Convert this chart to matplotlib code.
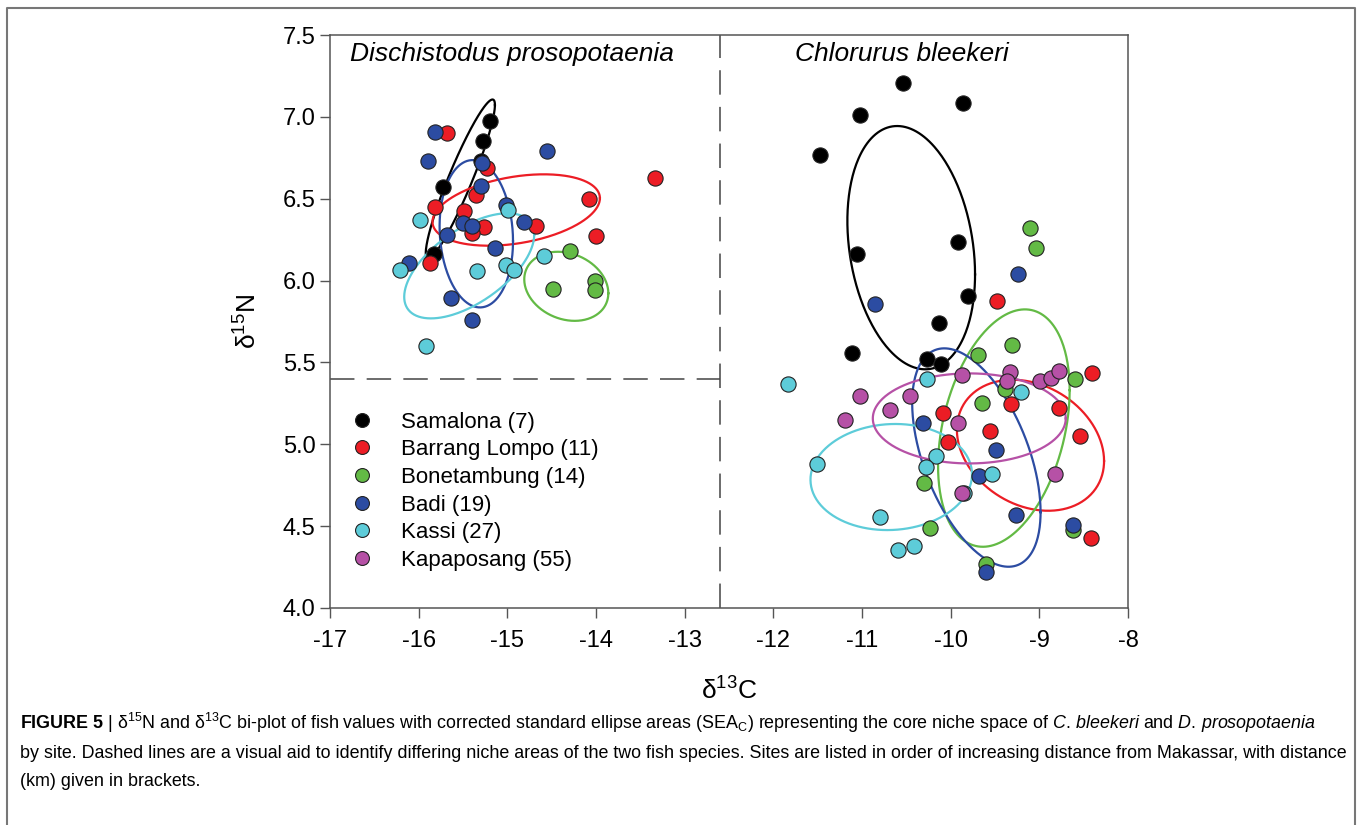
import numpy as np
import matplotlib
matplotlib.use("Agg")
import matplotlib.pyplot as plt
from matplotlib.lines import Line2D

plt.rcParams['font.family'] = ['Liberation Sans', 'DejaVu Sans']
plt.rcParams['axes.unicode_minus'] = False
plt.rcParams['mathtext.fontset'] = 'custom'
plt.rcParams['mathtext.rm'] = 'Liberation Sans'
plt.rcParams['mathtext.it'] = 'Liberation Sans:italic'
plt.rcParams['mathtext.bf'] = 'Liberation Sans:bold'

# site names and colours
sites = ["Samalona (7)", "Barrang Lompo (11)", "Bonetambung (14)",
         "Badi (19)", "Kassi (27)", "Kapaposang (55)"]
colors = ["#000000", "#ec1d25", "#63ba45", "#2c4ca2", "#5dccd9", "#b651a6"]

# Dischistodus prosopotaenia (left group), d13C / d15N per site
dp_x = [
    [-15.20, -15.28, -15.72, -15.83, -15.30],
    [-15.68, -15.23, -15.35, -15.82, -15.49, -15.26, -15.40, -14.68, -14.08, -14.00, -13.33, -15.87],
    [-14.29, -14.48, -14.01, -14.01],
    [-15.82, -15.90, -15.29, -14.55, -15.30, -15.02, -14.81, -15.50, -15.40, -15.68, -15.14, -16.11, -15.63, -15.40],
    [-15.98, -14.99, -14.59, -16.21, -15.34, -15.01, -14.92, -15.92],
    [],
]
dp_y = [
    [6.975, 6.85, 6.57, 6.16, 6.73],
    [6.90, 6.69, 6.52, 6.45, 6.425, 6.33, 6.29, 6.335, 6.50, 6.275, 6.625, 6.11],
    [6.18, 5.95, 6.00, 5.94],
    [6.91, 6.73, 6.72, 6.79, 6.58, 6.46, 6.36, 6.35, 6.335, 6.28, 6.20, 6.11, 5.895, 5.76],
    [6.37, 6.43, 6.15, 6.065, 6.06, 6.095, 6.065, 5.60],
    [],
]

# Chlorurus bleekeri (right group)
cb_x = [
    [-10.54, -9.86, -11.02, -11.47, -9.92, -11.06, -9.81, -10.13, -11.11, -10.27, -10.11],
    [-9.48, -8.41, -9.32, -8.78, -10.09, -9.56, -8.54, -10.03, -8.42],
    [-9.105, -9.04, -9.31, -9.69, -8.60, -9.39, -9.65, -10.30, -10.23, -8.62, -9.60],
    [-9.24, -10.85, -10.31, -9.49, -9.68, -9.26, -8.62, -9.60],
    [-11.84, -10.27, -9.21, -10.17, -10.28, -11.51, -9.53, -9.85, -10.80, -10.41, -10.59],
    [-11.02, -11.19, -10.68, -10.46, -9.87, -9.33, -9.37, -8.99, -8.87, -8.78, -9.92, -8.82, -9.87],
]
cb_y = [
    [7.205, 7.087, 7.01, 6.77, 6.237, 6.16, 5.906, 5.739, 5.56, 5.519, 5.49],
    [5.877, 5.433, 5.244, 5.22, 5.19, 5.08, 5.052, 5.017, 4.43],
    [6.32, 6.197, 5.606, 5.545, 5.40, 5.34, 5.25, 4.765, 4.49, 4.476, 4.27],
    [6.04, 5.855, 5.13, 4.965, 4.806, 4.568, 4.507, 4.22],
    [5.368, 5.40, 5.321, 4.93, 4.863, 4.879, 4.818, 4.70, 4.557, 4.378, 4.354],
    [5.295, 5.148, 5.21, 5.295, 5.423, 5.443, 5.386, 5.388, 5.406, 5.447, 5.131, 4.816, 4.70],
]

# SEAc ellipses: centre x, centre y, half extent x, half extent y, correlation
dp_ell = [
    (-15.53, 6.62, 0.39, 0.486, 0.93),
    (-14.90, 6.431, 0.944, 0.218, 0.33),
    (-14.335, 5.965, 0.474, 0.211, -0.2),
    (-15.35, 6.286, 0.414, 0.45, -0.1),
    (-15.43, 6.09, 0.733, 0.321, 0.59),
    None,
]
cb_ell = [
    (-10.445, 6.201, 0.72, 0.743, -0.22),
    (-9.10, 4.994, 0.83, 0.40, -0.24),
    (-9.40, 5.099, 0.742, 0.725, 0.32),
    (-9.71, 4.919, 0.724, 0.667, -0.5),
    (-10.67, 4.80, 0.911, 0.324, 0.05),
    (-9.79, 5.158, 1.088, 0.275, 0.0),
]


def ellipse(ax, e, c):
    cx, cy, sx, sy, r = e
    t = np.linspace(0, 2 * np.pi, 300)
    ex = cx + sx * np.cos(t)
    ey = cy + sy * (r * np.cos(t) + np.sqrt(1 - r ** 2) * np.sin(t))
    ax.plot(ex, ey, color=c, lw=1.6, zorder=2)


fig = plt.figure(figsize=(13.58, 8.25), dpi=100)
ax = fig.add_axes([330 / 1358, 1 - 608 / 825, 798 / 1358, 573 / 825])

for i in range(6):
    if dp_ell[i] is not None:
        ellipse(ax, dp_ell[i], colors[i])
    ellipse(ax, cb_ell[i], colors[i])

for i in range(6):
    ax.scatter(dp_x[i], dp_y[i], s=120, c=colors[i], edgecolors="#222222",
               linewidths=0.8, zorder=3)
    ax.scatter(cb_x[i], cb_y[i], s=120, c=colors[i], edgecolors="#222222",
               linewidths=0.8, zorder=3)

# dashed divider lines
ax.plot([-12.6, -12.6], [4.0, 7.5], color="#444444", lw=1.1, dashes=(16, 8), zorder=1)
ax.plot([-17, -12.6], [5.4, 5.4], color="#444444", lw=1.1, dashes=(16, 8), zorder=1)

ax.set_xlim(-17, -8)
ax.set_ylim(4.0, 7.5)
ax.set_xticks(np.arange(-17, -7, 1))
ax.set_yticks(np.arange(4.0, 7.51, 0.5))
ax.set_yticklabels(["%.1f" % v for v in np.arange(4.0, 7.51, 0.5)])
ax.tick_params(direction="out", length=7, width=1, labelsize=17, colors="#555555",
               labelcolor="black")
ax.tick_params(axis="x", pad=9)
for s in ax.spines.values():
    s.set_color("#555555")
    s.set_linewidth(1.1)

ax.set_xlabel(r"δ$^{13}$C", fontsize=19, labelpad=18)
ax.set_ylabel(r"δ$^{15}$N", fontsize=19, labelpad=15)

ax.text(-16.775, 7.385, "Dischistodus prosopotaenia", fontsize=19, style="italic",
        va="center")
ax.text(-11.76, 7.385, "Chlorurus bleekeri", fontsize=19, style="italic", va="center")

handles = [Line2D([], [], ls="none", marker="o", markersize=10,
                  markerfacecolor=colors[i], markeredgecolor="#222222",
                  markeredgewidth=0.8) for i in range(6)]
ax.legend(handles, sites, loc="upper left", bbox_to_anchor=(0.0, 0.37),
          frameon=False, fontsize=16, handletextpad=1.0, labelspacing=0.3,
          borderaxespad=0.3, handlelength=1.5)

# caption
cap_kw = dict(fontsize=12.9, ha="left", va="center", transform=fig.transFigure)
fig.text(20 / 1358, 1 - 723 / 825,
         r"$\mathbf{FIGURE\ 5}$ | δ$^{15}$N and δ$^{13}$C bi-plot of fish values with corrected "
         r"standard ellipse areas (SEA$_{\mathrm{C}}$) representing the core niche space of "
         r"$\mathit{C.\,bleekeri}$ and $\mathit{D.\,prosopotaenia}$", **cap_kw)
fig.text(20 / 1358, 1 - 753 / 825,
         "by site. Dashed lines are a visual aid to identify differing niche areas of the two "
         "fish species. Sites are listed in order of increasing distance from Makassar, with distance",
         **cap_kw)
fig.text(20 / 1358, 1 - 782 / 825, "(km) given in brackets.", **cap_kw)

# outer frame
fig.add_artist(Line2D([7 / 1358, 7 / 1358, 1355 / 1358, 1355 / 1358],
                      [0, 1 - 8 / 825, 1 - 8 / 825, 0], color="#777777", lw=1.5,
                      transform=fig.transFigure))

fig.savefig("out.png", dpi=100)
